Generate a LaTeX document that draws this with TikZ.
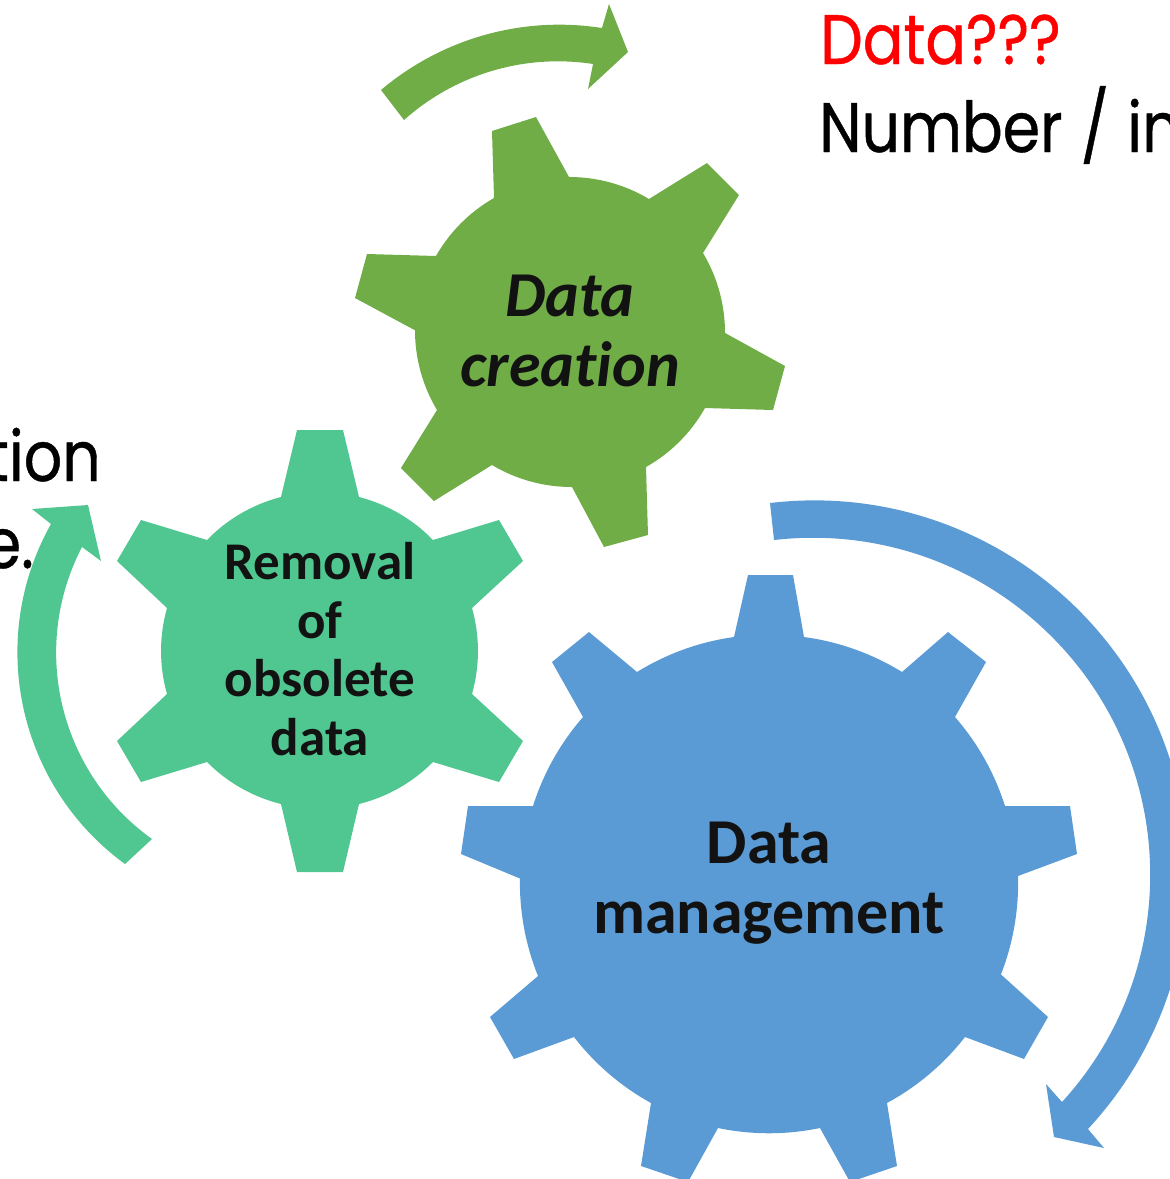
\documentclass[tikz,border=0pt]{standalone}
\usepackage{fontspec}
\usetikzlibrary{svg.path}
\setmainfont{Carlito}[Ligatures=NoCommon]
\newfontfamily\handfont{Poppins}[FakeStretch=0.86,FakeBold=0.6]
\definecolor{gearblue}{HTML}{5B9BD5}
\definecolor{geargreen}{HTML}{70AD47}
\definecolor{gearmint}{HTML}{50C690}
\tikzset{
  gearlabel/.style={align=center,text=black!93,inner sep=0pt},
  handtext/.style={inner sep=0pt,font=\handfont\fontsize{70}{80}\selectfont}
}
\begin{document}
\begin{tikzpicture}[x=1pt,y=1pt]
\useasboundingbox (0,0) rectangle (1170,-1179);
\clip (0,0) rectangle (1170,-1179);
% clipped side texts
\node[handtext,anchor=base west,text=red] (qdata) at (820,-64) {Data???};
\node[handtext,anchor=base west,text=black] (qnum) at (819,-152) {Number\hspace{2pt} /\hspace{2pt} in};
\node[handtext,anchor=base east,text=black] (qtion) at (101,-481) {tion};
\node[handtext,anchor=base east,text=black] (qe) at (34,-568) {e.};
\begin{scope}[yscale=-1]
% arrows
\fill[geargreen] svg "M 381 90 A 276 276 0 0 1 602 28 L 609 4 L 628 52 L 588 89 L 593 64 A 231 231 0 0 0 404 120 Z";
\fill[gearblue] svg "M 770 503 A 374 374 0 0 1 1088 1129 L 1104 1148 L 1054 1137 L 1046 1084 L 1062 1102 A 337 337 0 0 0 774 540 Z";
\fill[gearmint] svg "M 125 864 A 262 262 0 0 1 51 524 L 32 509 L 88 505 L 101 561 L 82 547 A 229 229 0 0 0 152 839 Z";
% gears
\fill[geargreen] svg "M 494 198 L 492 131 L 536 117 L 569 177 A 155 155 0 0 1 649 199 L 707 163 L 739 195 L 703 253 A 155 155 0 0 1 725 334 L 785 366 L 773 410 L 705 408 A 155 155 0 0 1 646 467 L 648 535 L 604 547 L 572 487 A 155 155 0 0 1 492 465 L 434 501 L 401 468 L 437 410 A 155 155 0 0 1 415 330 L 355 298 L 367 254 L 436 256 A 155 155 0 0 1 494 198 Z";
\fill[gearmint] svg "M 281 497 L 297 430 L 343 430 L 359 497 A 158 158 0 0 1 433 540 L 499 520 L 523 561 L 472 608 A 158 158 0 0 1 472 694 L 523 741 L 499 782 L 433 762 A 158 158 0 0 1 359 804 L 343 872 L 297 872 L 281 804 A 158 158 0 0 1 207 762 L 141 782 L 117 741 L 167 694 A 158 158 0 0 1 167 608 L 117 561 L 141 520 L 207 540 A 158 158 0 0 1 281 497 Z";
\fill[gearblue] svg "M 734 637 L 748 575 L 793 575 L 804 637 A 250 250 0 0 1 902 672 L 948 632 L 986 662 L 955 717 A 250 250 0 0 1 1005 806 L 1070 806 L 1077 854 L 1018 876 A 250 250 0 0 1 1001 976 L 1048 1017 L 1024 1059 L 965 1037 A 250 250 0 0 1 887 1103 L 897 1166 L 850 1182 L 820 1128 A 250 250 0 0 1 718 1128 L 688 1182 L 641 1166 L 651 1103 A 250 250 0 0 1 574 1037 L 514 1059 L 490 1017 L 538 976 A 250 250 0 0 1 520 876 L 461 854 L 468 806 L 533 806 A 250 250 0 0 1 583 717 L 552 662 L 589 632 L 637 672 A 250 250 0 0 1 734 637 Z";
\end{scope}
% gear labels
\node[gearlabel,font=\bfseries\itshape\fontsize{64}{70}\selectfont] (lcreate) at (570,-331) {Data\\creation};
\node[gearlabel,font=\bfseries\fontsize{53}{58.6}\selectfont] (lremove) at (320,-649) {Removal\\of\\obsolete\\data};
\node[gearlabel,font=\bfseries\fontsize{64}{70}\selectfont] (lmanage) at (769,-883) {Data\\management};
\end{tikzpicture}
\end{document}
